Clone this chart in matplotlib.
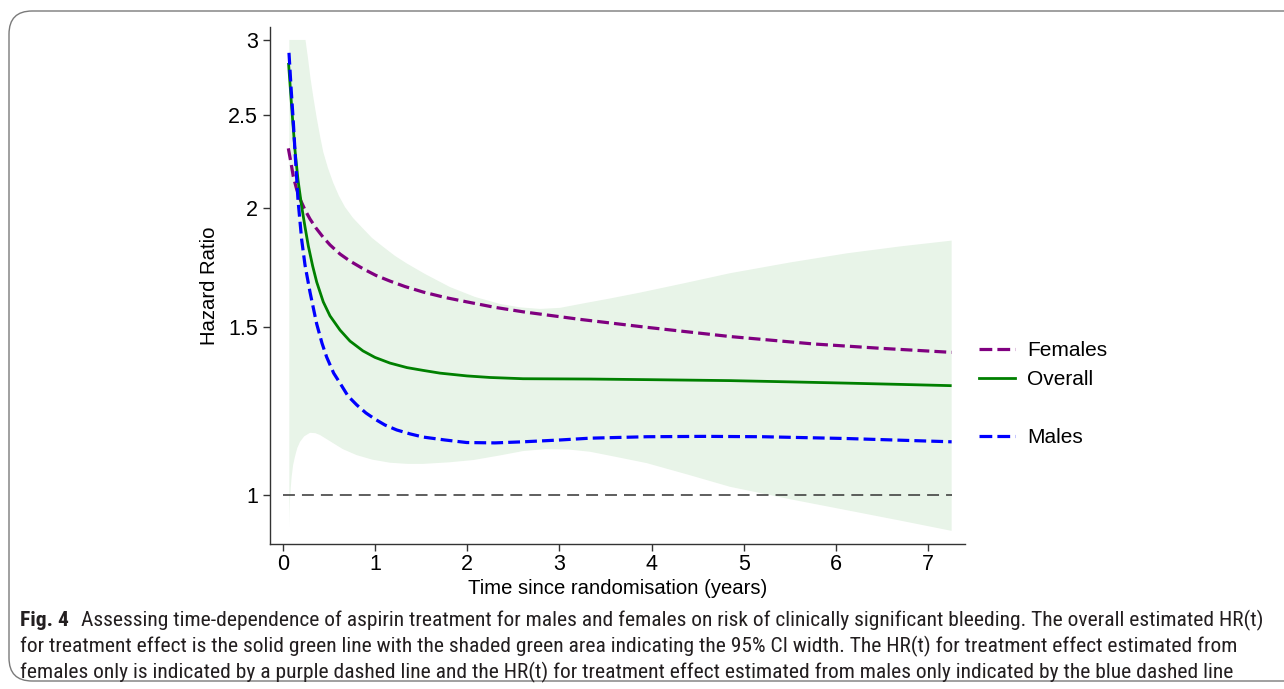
import matplotlib
matplotlib.use("Agg")
import matplotlib.pyplot as plt
from matplotlib.lines import Line2D
from matplotlib.patches import FancyBboxPatch
from matplotlib.ticker import NullLocator, FixedLocator, FixedFormatter
from matplotlib import font_manager

# ---------------- data ----------------
overall_t = [0.060, 0.098, 0.130, 0.163, 0.203, 0.239, 0.275, 0.322, 0.366, 0.437, 0.510,
             0.619, 0.727, 0.868, 0.998, 1.161, 1.346, 1.519, 1.704, 1.997, 2.247, 2.605,
             3.332, 3.98, 4.851, 5.50, 6.12, 6.70, 7.257]
overall_hr = [2.838, 2.521, 2.300, 2.139, 2.006, 1.910, 1.824, 1.738, 1.672, 1.594, 1.541,
              1.489, 1.450, 1.416, 1.394, 1.375, 1.360, 1.351, 1.342, 1.333, 1.328, 1.324,
              1.323, 1.321, 1.318, 1.314, 1.310, 1.306, 1.302]

female_t = [0.058, 0.087, 0.112, 0.147, 0.185, 0.239, 0.293, 0.358, 0.434, 0.510, 0.619,
            0.727, 0.872, 1.009, 1.161, 1.324, 1.523, 1.758, 1.994, 2.30, 2.608, 3.223,
            3.947, 4.851, 5.755, 6.48, 7.257]
female_hr = [2.309, 2.229, 2.157, 2.094, 2.043, 1.990, 1.947, 1.905, 1.864, 1.829, 1.789,
             1.759, 1.726, 1.699, 1.676, 1.654, 1.632, 1.611, 1.594, 1.573, 1.556, 1.528,
             1.499, 1.466, 1.440, 1.425, 1.411]

male_t = [0.065, 0.087, 0.112, 0.136, 0.163, 0.203, 0.239, 0.293, 0.366, 0.423, 0.474,
          0.550, 0.619, 0.705, 0.80, 0.90, 0.998, 1.107, 1.234, 1.378, 1.523, 1.758,
          1.994, 2.30, 2.608, 3.006, 3.332, 3.95, 4.58, 5.21, 6.12, 7.257]
male_hr = [2.908, 2.678, 2.461, 2.245, 2.038, 1.851, 1.742, 1.632, 1.511, 1.443, 1.395,
           1.342, 1.310, 1.270, 1.243, 1.219, 1.201, 1.184, 1.170, 1.159, 1.150, 1.142,
           1.135, 1.134, 1.137, 1.142, 1.147, 1.151, 1.152, 1.151, 1.146, 1.137]

ci_upper_t = [0.069, 0.244, 0.271, 0.298, 0.329, 0.366, 0.402, 0.437, 0.488, 0.546, 0.608,
              0.673, 0.760, 0.872, 0.966, 1.089, 1.216, 1.343, 1.541, 1.812, 2.084, 2.355,
              2.572, 2.789, 3.006, 3.259, 3.549, 3.875, 4.363, 4.851, 5.503, 6.118, 6.693, 7.257]
ci_upper_hr = [3.0, 3.0, 2.872, 2.737, 2.614, 2.485, 2.379, 2.289, 2.202, 2.124, 2.058,
               2.004, 1.952, 1.901, 1.860, 1.820, 1.781, 1.749, 1.705, 1.652, 1.613, 1.586,
               1.573, 1.567, 1.571, 1.588, 1.607, 1.630, 1.668, 1.708, 1.753, 1.792, 1.822, 1.848]

ci_lower_t = [0.069, 0.072, 0.076, 0.085, 0.094, 0.11, 0.13, 0.155, 0.185, 0.23, 0.293,
              0.35, 0.40, 0.47, 0.546, 0.65, 0.80, 0.97, 1.161, 1.35, 1.523, 1.8, 2.065,
              2.35, 2.608, 2.85, 3.1, 3.332, 3.6, 3.947, 4.4, 4.851, 5.5, 6.118, 6.7, 7.257]
ci_lower_hr = [0.926, 0.96, 0.988, 1.02, 1.045, 1.075, 1.097, 1.12, 1.137, 1.152, 1.162,
               1.161, 1.156, 1.145, 1.133, 1.117, 1.101, 1.089, 1.081, 1.078, 1.078, 1.082, 1.088,
               1.10, 1.112, 1.117, 1.116, 1.110, 1.097, 1.080, 1.050, 1.020, 0.99, 0.964, 0.94, 0.917]

ref_t = [0.0, 7.257]
ref_hr = [1.0, 1.0]

y_ticks = [1, 1.5, 2, 2.5, 3]
y_tick_labels = ["1", "1.5", "2", "2.5", "3"]
x_ticks = [0, 1, 2, 3, 4, 5, 6, 7]
x_tick_labels = ["0", "1", "2", "3", "4", "5", "6", "7"]

legend_labels = ["Females", "Overall", "Males"]

caption_bold = "Fig. 4"
caption_line1 = ("Assessing time-dependence of aspirin treatment for males and females on risk of "
                 "clinically significant bleeding. The overall estimated HR(t)")
caption_line2 = ("for treatment effect is the solid green line with the shaded green area indicating "
                 "the 95% CI width. The HR(t) for treatment effect estimated from")
caption_line3 = ("females only is indicated by a purple dashed line and the HR(t) for treatment effect "
                 "estimated from males only indicated by the blue dashed line")

# ---------------- fonts ----------------
def has_font(name):
    try:
        font_manager.findfont(font_manager.FontProperties(family=name), fallback_to_default=False)
        return True
    except Exception:
        return False

main_font = ["Liberation Sans", "DejaVu Sans"]
cap_font = None
for cand in ["Liberation Sans Narrow", "Roboto Condensed", "Open Sans Condensed", "Noto Sans"]:
    if has_font(cand):
        cap_font = cand
        break
if cap_font is None:
    cap_font = "DejaVu Sans"
plt.rcParams["font.family"] = main_font

W, H = 1284, 689
fig = plt.figure(figsize=(W / 100, H / 100), dpi=100)
fig.patch.set_facecolor("white")

# rounded border
border = FancyBboxPatch((9 / W, 1 - 681 / H), 1.2, (681 - 11) / H,
                        boxstyle="round,pad=0,rounding_size=0.018",
                        transform=fig.transFigure, facecolor="none",
                        edgecolor="#7a7a7a", linewidth=1.0, mutation_aspect=W / H)
fig.patches.append(border)

ax = fig.add_axes([270 / W, 1 - 544 / H, (965 - 270) / W, (544 - 27) / H])
ax.set_yscale("log")
ax.set_ylim(0.8884, 3.095)
ax.set_xlim(-0.141, 7.402)

# CI band
band_t = ci_upper_t + ci_lower_t[::-1]
band_hr = ci_upper_hr + ci_lower_hr[::-1]
ax.fill(band_t, band_hr, color="#e8f4e8", linewidth=0, zorder=1)

# reference line
ax.plot(ref_t, ref_hr, color="#333333", linewidth=1.1, dashes=(7.8, 4.6), zorder=2)

ax.plot(overall_t, overall_hr, color="#008000", linewidth=2.0, zorder=4,
        solid_capstyle="butt", solid_joinstyle="round")
ax.plot(female_t, female_hr, color="#800080", linewidth=2.3, dashes=(3.7, 1.6), zorder=3)
ax.plot(male_t, male_hr, color="#0000ff", linewidth=2.3, dashes=(3.7, 1.6), zorder=5)

ax.yaxis.set_major_locator(FixedLocator(y_ticks))
ax.yaxis.set_major_formatter(FixedFormatter(y_tick_labels))
ax.yaxis.set_minor_locator(NullLocator())
ax.set_xticks(x_ticks)
ax.set_xticklabels(x_tick_labels)

for s in ["top", "right"]:
    ax.spines[s].set_visible(False)
for s in ["left", "bottom"]:
    ax.spines[s].set_color("#333333")
    ax.spines[s].set_linewidth(1.0)
ax.tick_params(axis="both", direction="out", length=5, width=1.0, color="#333333",
               labelsize=15.5, labelcolor="black")
ax.tick_params(axis="y", pad=3.5)
ax.tick_params(axis="x", pad=2.5)

ax.set_xlabel("Time since randomisation (years)", fontsize=14.6)
ax.xaxis.set_label_coords(0.5, -0.068)
ax.set_ylabel("Hazard Ratio", fontsize=14.6)
ax.yaxis.set_label_coords(-0.073, 0.5)

# legend
handles = [
    Line2D([], [], color="#800080", linewidth=2.3, dashes=(4.0, 1.6)),
    Line2D([], [], color="#008000", linewidth=2.0),
    Line2D([], [], color="none"),
    Line2D([], [], color="#0000ff", linewidth=2.3, dashes=(4.0, 1.6)),
]
labels = [legend_labels[0], legend_labels[1], " ", legend_labels[2]]
fig.legend(handles, labels, loc="upper left", bbox_to_anchor=(979 / W, 1 - 341 / H),
           bbox_transform=fig.transFigure, frameon=False, fontsize=15,
           handlelength=1.75, handletextpad=0.55, labelspacing=0.48,
           borderpad=0, borderaxespad=0)

# caption
renderer = fig.canvas.get_renderer()
cap_size = 12.0
ys = [1 - 626 / H, 1 - 652 / H, 1 - 678 / H]
tb = fig.text(20 / W, ys[0], caption_bold, family=[cap_font, "DejaVu Sans"],
              fontsize=cap_size, fontweight="bold", color="#231f20", va="baseline")
t1 = fig.text(0, ys[0], caption_line1, family=[cap_font, "DejaVu Sans"],
              fontsize=cap_size, color="#231f20", va="baseline")
gap_px = 12
wb = tb.get_window_extent(renderer).width
w1 = t1.get_window_extent(renderer).width
scale = (1262 - 20 - gap_px) / (wb + w1)
cap_size = cap_size * scale
tb.set_fontsize(cap_size)
t1.set_fontsize(cap_size)
wb = tb.get_window_extent(renderer).width
t1.set_x((20 + wb + gap_px) / W)
fig.text(20 / W, ys[1], caption_line2, family=[cap_font, "DejaVu Sans"],
         fontsize=cap_size, color="#231f20", va="baseline")
fig.text(20 / W, ys[2], caption_line3, family=[cap_font, "DejaVu Sans"],
         fontsize=cap_size, color="#231f20", va="baseline")

fig.savefig("out.png", dpi=100)
